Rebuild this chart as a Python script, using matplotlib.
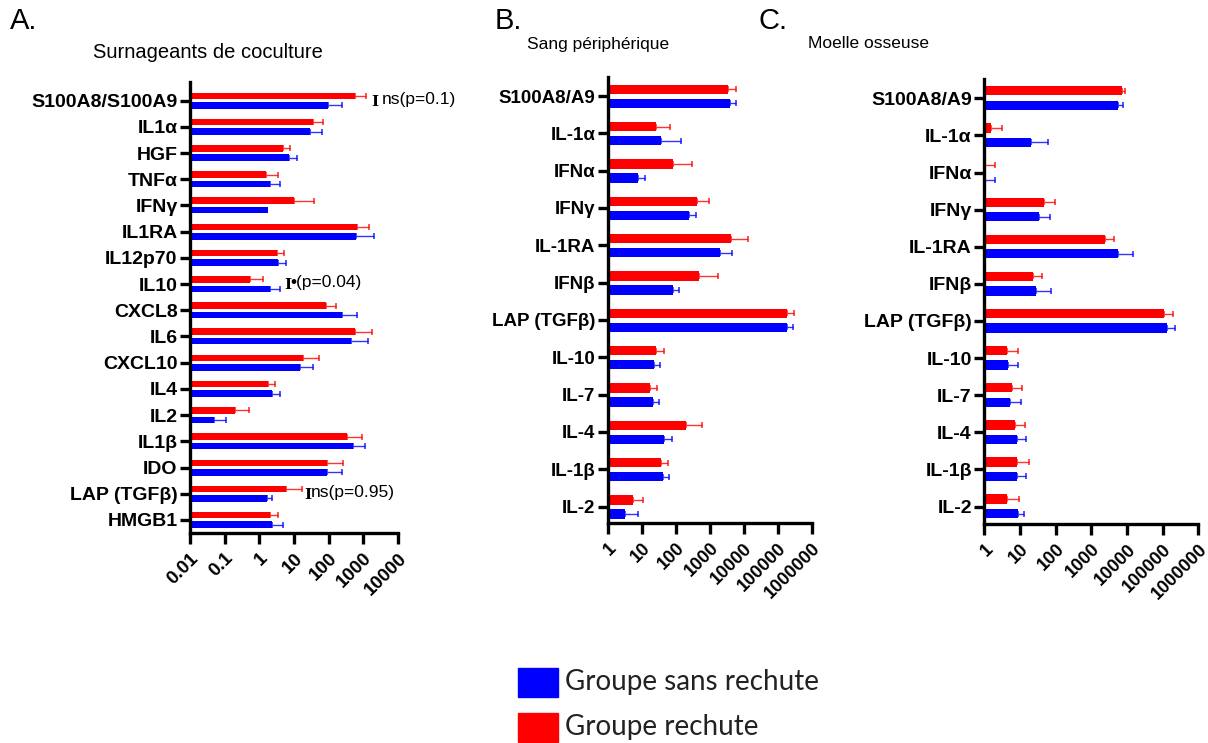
import numpy as np
import matplotlib
matplotlib.use("Agg")
import matplotlib.pyplot as plt
from matplotlib.patches import Rectangle

plt.rcParams['font.family'] = ['Liberation Sans', 'DejaVu Sans']

# A. surnageants de coculture
cats_a = ["S100A8/S100A9", "IL1α", "HGF", "TNFα", "IFNγ", "IL1RA", "IL12p70", "IL10",
          "CXCL8", "IL6", "CXCL10", "IL4", "IL2", "IL1β", "IDO", "LAP (TGFβ)", "HMGB1"]
rechute_a = [577, 35, 4.9, 1.6, 10.3, 676, 3.2, 0.55, 81, 577, 17.6, 1.8, 0.2, 347, 91, 6.0, 2.0]
rechute_a_err = [653, 35, 3.0, 1.8, 27, 804, 1.8, 0.73, 79, 1153, 34, 1.0, 0.31, 543, 174, 11, 1.5]
sans_a = [95, 29, 7.2, 2.0, 1.8, 603, 3.5, 2.0, 250, 436, 14.4, 2.3, 0.049, 486, 91, 1.66, 2.3]
sans_a_err = [145, 36, 5.2, 2.0, 0, 1387, 2.4, 2.0, 400, 884, 20.6, 1.6, 0.061, 614, 154, 0.64, 2.5]
ticks_a = [0.01, 0.1, 1, 10, 100, 1000, 10000]
ticklabels_a = ["0.01", "0.1", "1", "10", "100", "1000", "10000"]

# B. sang périphérique
cats_b = ["S100A8/A9", "IL-1α", "IFNα", "IFNγ", "IL-1RA", "IFNβ", "LAP (TGFβ)",
          "IL-10", "IL-7", "IL-4", "IL-1β", "IL-2"]
rechute_b = [3500, 26, 81, 435, 4350, 475, 183000, 26, 17, 200, 37, 5.7]
rechute_b_err = [2400, 42, 214, 545, 9350, 1325, 117000, 19, 12, 380, 24, 5.0]
sans_b = [4000, 37, 7.8, 250, 2000, 81, 183000, 23.6, 21, 45, 41.5, 3.3]
sans_b_err = [1900, 103, 4.7, 150, 2550, 42, 93000, 11.4, 11, 35, 22.5, 4.3]

# C. moelle osseuse
cats_c = ["S100A8/A9", "IL-1α", "IFNα", "IFNγ", "IL-1RA", "IFNβ", "LAP (TGFβ)",
          "IL-10", "IL-7", "IL-4", "IL-1β", "IL-2"]
rechute_c = [7100, 1.5, 1.0, 48, 2400, 23.6, 109000, 4.2, 5.8, 7.2, 8.1, 4.2]
rechute_c_err = [1900, 1.6, 0.95, 45, 1950, 18.4, 91000, 4.4, 5.6, 6.6, 9.7, 5.2]
sans_c = [5700, 21, 1.0, 35, 5700, 28, 135000, 4.7, 5.2, 8.1, 8.1, 9.0]
sans_c_err = [2200, 40, 0.95, 36, 8700, 44, 87000, 4.2, 5.8, 6.9, 6.6, 4.3]

ticks_bc = [1, 10, 100, 1000, 10000, 100000, 1000000]
ticklabels_bc = ["1", "10", "100", "1000", "10000", "100000", "1000000"]

groups = ["Groupe sans rechute", "Groupe rechute"]
BLUE = "#0000ff"
RED = "#ff0000"


def panel(ax, cats, red, red_err, blue, blue_err, ticks, ticklabels,
          off_r, off_b, h, ylim, ysize, xsize):
    y = np.arange(len(cats))
    xmin = ticks[0]
    red = np.array(red, float)
    blue = np.array(blue, float)
    ax.set_xscale("log")
    ax.barh(y + off_r, red - xmin, left=xmin, height=h, color=RED, zorder=2)
    ax.barh(y + off_b, blue - xmin, left=xmin, height=h, color=BLUE, zorder=2)
    for vals, err, off, col in [(red, red_err, off_r, RED), (blue, blue_err, off_b, BLUE)]:
        e = np.array(err, float)
        m = e > 0
        ax.errorbar(vals[m], (y + off)[m], xerr=[np.zeros(m.sum()), e[m]], fmt="none",
                    ecolor=col, elinewidth=1.0, capsize=2.5, capthick=1.2, alpha=0.8, zorder=1)
    ax.set_xlim(ticks[0], ticks[-1])
    ax.set_ylim(*ylim)
    ax.set_yticks(y)
    ax.set_yticklabels(cats, fontsize=ysize, fontweight="bold")
    ax.set_xticks(ticks)
    ax.set_xticklabels(ticklabels, fontsize=xsize, fontweight="bold",
                       rotation=45, ha="right", rotation_mode="anchor")
    ax.xaxis.set_minor_locator(matplotlib.ticker.NullLocator())
    for s in ["top", "right"]:
        ax.spines[s].set_visible(False)
    for s in ["left", "bottom"]:
        ax.spines[s].set_linewidth(2.4)
    ax.tick_params(axis="y", length=7, width=2.4, pad=2)
    ax.tick_params(axis="x", length=8, width=2.4, pad=4)


fig = plt.figure(figsize=(12.08, 7.43), dpi=100)

ax_a = fig.add_axes([0.1573, 0.2826, 0.1722, 0.607])
panel(ax_a, cats_a, rechute_a, rechute_a_err, sans_a, sans_a_err, ticks_a, ticklabels_a,
      -0.18, 0.18, 0.25, (16.5, -0.71), 14, 13.5)

ax_b = fig.add_axes([0.5031, 0.2961, 0.1689, 0.6003])
panel(ax_b, cats_b, rechute_b, rechute_b_err, sans_b, sans_b_err, ticks_bc, ticklabels_bc,
      -0.18, 0.2, 0.25, (11.44, -0.51), 13.5, 13)

ax_c = fig.add_axes([0.8148, 0.2948, 0.1772, 0.5989])
panel(ax_c, cats_c, rechute_c, rechute_c_err, sans_c, sans_c_err, ticks_bc, ticklabels_bc,
      -0.2, 0.19, 0.25, (11.47, -0.52), 14, 13)

# significance notes on panel A
notes = [(0, 2150, 3460, "ns(p=0.1)"), (7, 6.5, 7.9, "•(p=0.04)"), (15, 24.5, 30, "ns(p=0.95)")]
for idx, xb, xt, txt in notes:
    ax_a.text(xb, idx + 0.05, "I", family="DejaVu Serif", fontsize=11, fontweight="bold",
              ha="center", va="center", clip_on=False)
    ax_a.text(xt, idx - 0.05, txt, fontsize=12.5, ha="left", va="center", clip_on=False)

# panel letters and titles
fig.text(10 / 1208, 1 - 21 / 743, "A.", fontsize=21, va="center", ha="left")
fig.text(495 / 1208, 1 - 21 / 743, "B.", fontsize=21, va="center", ha="left")
fig.text(758 / 1208, 1 - 21 / 743, "C.", fontsize=21, va="center", ha="left")
fig.text(208 / 1208, 1 - 52 / 743, "Surnageants de coculture", fontsize=14.5,
         ha="center", va="center")
fig.text(598 / 1208, 1 - 45 / 743, "Sang périphérique", fontsize=12.5,
         ha="center", va="center")
fig.text(868 / 1208, 1 - 43 / 743, "Moelle osseuse", fontsize=12.5,
         ha="center", va="center")

# legend
for i, (lab, col) in enumerate(zip(groups, [BLUE, RED])):
    yc = 682 + i * 45
    fig.add_artist(Rectangle((518 / 1208, 1 - (yc + 14.5) / 743), 40 / 1208, 29 / 743,
                             transform=fig.transFigure, color=col))
    fig.text(565 / 1208, 1 - yc / 743, lab, fontsize=20, family=["Lato", "DejaVu Sans"],
             ha="left", va="center", color="#222222")

fig.savefig("out.png", dpi=100)
